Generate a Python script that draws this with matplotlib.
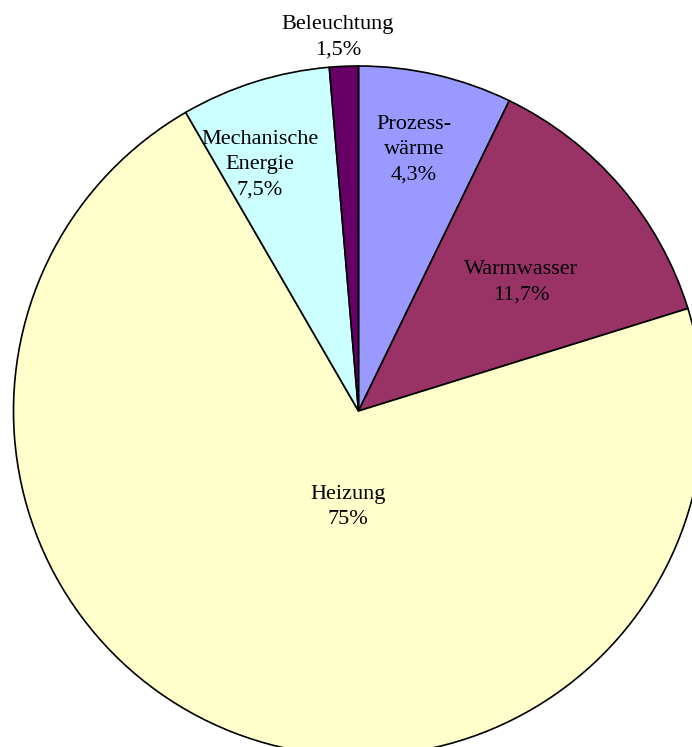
import matplotlib.pyplot as plt

# =====================================================
# Data (slice shares, labels as printed)
# =====================================================
names = ["Prozess-\nwärme", "Warmwasser", "Heizung", "Mechanische\nEnergie", "Beleuchtung"]
shares = [7.2, 13.0, 71.45, 7.0, 1.35]
pct_labels = ["4,3%", "11,7%", "75%", "7,5%", "1,5%"]
colors = ["#9999FF", "#993366", "#FFFFCC", "#CCFFFF", "#660066"]

# label anchor points in pixels (x, y from top)
label_pos = [(414, 150), (521, 282), (348, 507), (260, 165), (338, 37)]

plt.rcParams["font.family"] = ["Liberation Serif", "DejaVu Serif"]

W, H = 692, 747
fig = plt.figure(figsize=(W / 100, H / 100), dpi=100)
ax = fig.add_axes([0, 0, 1, 1])

cx, cy, r = 358.5, 411, 345
ax.pie(shares, colors=colors, startangle=90, counterclock=False,
       center=(cx, H - cy), radius=r,
       wedgeprops={"edgecolor": "black", "linewidth": 1.2})

for name, pct, (x, y) in zip(names, pct_labels, label_pos):
    ax.text(x, H - y, name + "\n" + pct, ha="center", va="center",
            fontsize=16, linespacing=1.45, color="black")

ax.set_xlim(0, W)
ax.set_ylim(0, H)
ax.set_aspect("equal")
ax.axis("off")

fig.savefig("out.png", dpi=100)
